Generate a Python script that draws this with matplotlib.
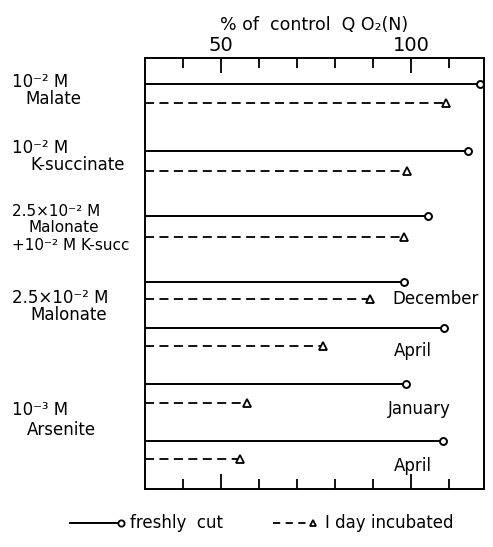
import numpy as np
import matplotlib.pyplot as plt

# % of control QO2(N)
fresh = [118.2, 115.0, 104.5, 98.2, 108.7, 98.7, 108.4]
incubated = [109.2, 98.9, 98.2, 89.2, 76.8, 56.8, 55.0]
months = ["", "", "", "December", "April", "January", "April"]
tick_vals = [40, 50, 60, 70, 80, 90, 100, 110]
tick_labels = ["", "50", "", "", "", "", "100", ""]

# row positions (pixel rows, axis inverted)
row_solid = [84, 151, 216, 282, 328, 384, 441]
row_dash = [103, 171, 237, 299, 346, 403, 459]

W, H = 493, 547
fig = plt.figure(figsize=(W / 100, H / 100), dpi=100)
ax = fig.add_axes([145 / W, 1 - 489 / H, 339 / W, 431 / H])
ax.set_xlim(30, 119.2)
ax.set_ylim(489, 58)

x0 = 30
for y, v in zip(row_solid, fresh):
    ax.plot([x0, v], [y, y], color="black", lw=1.4, clip_on=False)
    ax.plot([v], [y], marker="o", ms=5, mfc="white", mec="black", mew=1.4, clip_on=False)
for y, v in zip(row_dash, incubated):
    ax.plot([x0, v], [y, y], color="black", lw=1.3, ls=(0, (5, 3)), clip_on=False)
    ax.plot([v], [y], marker="^", ms=5.5, mfc="white", mec="black", mew=1.3, clip_on=False)

# month labels
month_pos = {3: (392, 299), 4: (394, 351), 5: (388, 409), 6: (394, 466)}
for i, (px, py) in month_pos.items():
    fig.text(px / W, 1 - py / H, months[i], fontsize=12, va="center", ha="left")

ax.set_xticks(tick_vals)
ax.set_xticklabels(tick_labels)
ax.tick_params(axis="x", direction="in", length=7, width=1.3, labelsize=14,
               top=True, bottom=True, labeltop=True, labelbottom=False, pad=2)
for t, lab in zip(ax.xaxis.get_major_ticks(), tick_labels):
    if lab:
        t.tick1line.set_markersize(11)
        t.tick2line.set_markersize(11)
ax.set_yticks([])
for s in ax.spines.values():
    s.set_linewidth(1.4)

ax.set_title("% of  control  Q O\u2082(N)", fontsize=12.5, pad=20)

# row labels
labels = [
    (12, 82, "10\u207b\u00b2 M", 12), (25, 99, "Malate", 12),
    (12, 148, "10\u207b\u00b2 M", 12), (30, 165, "K-succinate", 12),
    (12, 211, "2.5\u00d710\u207b\u00b2 M", 11), (28, 228, "Malonate", 11),
    (12, 245, "+10\u207b\u00b2 M K-succ", 11),
    (12, 298, "2.5\u00d710\u207b\u00b2 M", 12), (30, 315, "Malonate", 12),
    (12, 410, "10\u207b\u00b3 M", 12), (27, 430, "Arsenite", 12),
]
for px, py, s, fs in labels:
    fig.text(px / W, 1 - py / H, s, fontsize=fs, va="center", ha="left")

# legend
lg = fig.add_axes([0, 0, 1, 1])
lg.set_xlim(0, W)
lg.set_ylim(H, 0)
lg.axis("off")
lg.plot([70, 120], [523, 523], color="black", lw=1.4)
lg.plot([121], [523], marker="o", ms=4.5, mfc="white", mec="black", mew=1.3)
lg.text(130, 523, "freshly  cut", fontsize=12, va="center")
lg.plot([273, 310], [523, 523], color="black", lw=1.3, ls=(0, (4, 3)))
lg.plot([313], [523], marker="^", ms=5, mfc="white", mec="black", mew=1.3)
lg.text(325, 523, "I day incubated", fontsize=12, va="center")

fig.savefig("out.png", dpi=100)
